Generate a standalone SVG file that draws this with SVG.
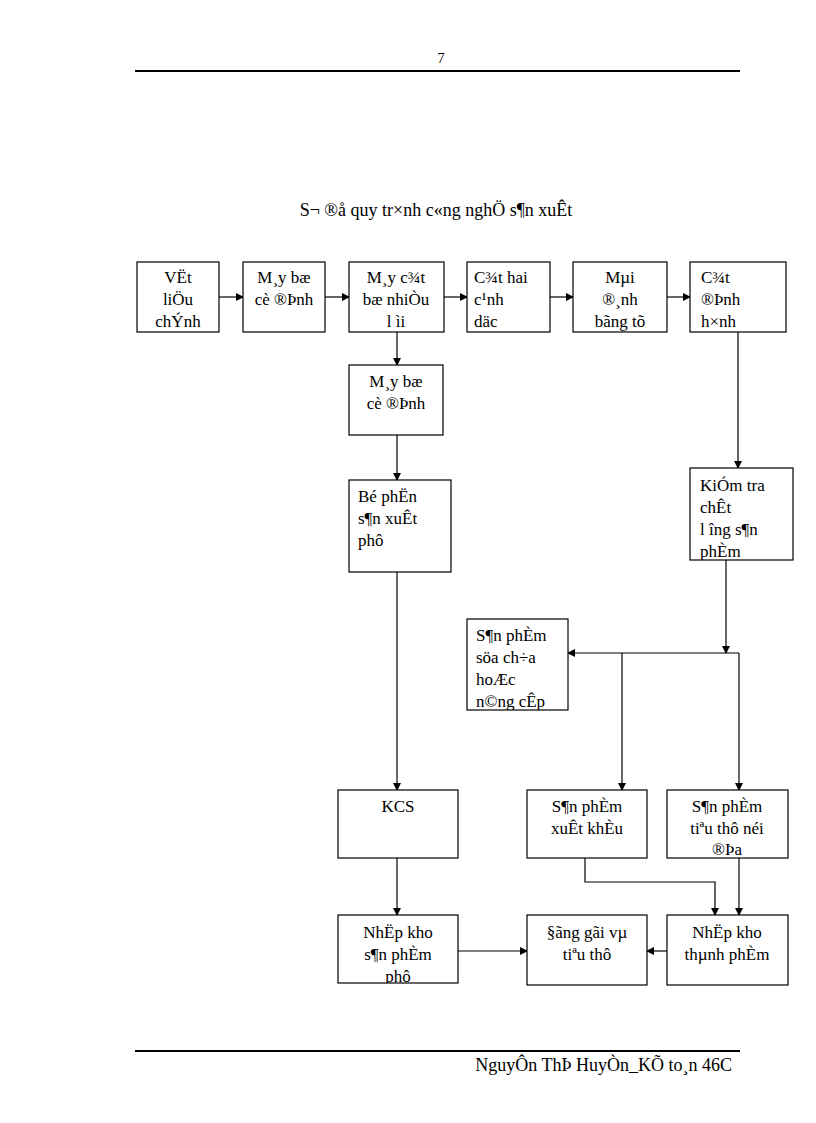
<svg xmlns="http://www.w3.org/2000/svg" width="816" height="1123" viewBox="0 0 816 1123" font-family="'Liberation Serif', 'Times New Roman', Times, serif">
<style>
text{font-family:'Liberation Serif','Times New Roman',Times,serif;font-size:17px;fill:#000}
.b{fill:#fff;stroke:#000;stroke-width:1.2}
.c{fill:none;stroke:#000;stroke-width:1.2}
.m{text-anchor:middle}
</style>
<defs>
<marker id="a" markerWidth="8" markerHeight="8" refX="7" refY="4" orient="auto" markerUnits="userSpaceOnUse"><path d="M0,0L8,4L0,8z" fill="#000"/></marker>
<clipPath id="k1"><rect x="137" y="262" width="82" height="70"/></clipPath>
<clipPath id="k3"><rect x="349" y="262" width="95" height="70"/></clipPath>
<clipPath id="k4"><rect x="467" y="262" width="83" height="70"/></clipPath>
<clipPath id="k5"><rect x="573" y="262" width="94" height="70"/></clipPath>
<clipPath id="k6"><rect x="690" y="262" width="96" height="70"/></clipPath>
<clipPath id="kk"><rect x="690" y="468" width="103" height="92"/></clipPath>
<clipPath id="ks"><rect x="467" y="619" width="101" height="91"/></clipPath>
<clipPath id="kn"><rect x="338" y="915" width="120" height="68"/></clipPath>
</defs>
<text x="441" y="63" class="m" style="font-size:14px">7</text>
<line x1="135" y1="71" x2="740" y2="71" stroke="#000" stroke-width="2"/>
<text x="436" y="216" class="m" style="font-size:18px">S¬ ®å quy tr×nh c«ng nghÖ s¶n xuÊt</text>

<g id="connectors">
<line class="c" x1="219" y1="297" x2="243" y2="297" marker-end="url(#a)"/>
<line class="c" x1="325" y1="297" x2="349" y2="297" marker-end="url(#a)"/>
<line class="c" x1="444" y1="297" x2="467" y2="297" marker-end="url(#a)"/>
<line class="c" x1="550" y1="297" x2="573" y2="297" marker-end="url(#a)"/>
<line class="c" x1="667" y1="297" x2="690" y2="297" marker-end="url(#a)"/>
<line class="c" x1="397" y1="332" x2="397" y2="365" marker-end="url(#a)"/>
<line class="c" x1="397" y1="435" x2="397" y2="480" marker-end="url(#a)"/>
<line class="c" x1="397" y1="572" x2="397" y2="790" marker-end="url(#a)"/>
<line class="c" x1="397" y1="858" x2="397" y2="915" marker-end="url(#a)"/>
<line class="c" x1="458" y1="951" x2="527" y2="951" marker-end="url(#a)"/>
<line class="c" x1="667" y1="951" x2="647" y2="951" marker-end="url(#a)"/>
<line class="c" x1="738" y1="332" x2="738" y2="468" marker-end="url(#a)"/>
<line class="c" x1="726" y1="560" x2="726" y2="653" marker-end="url(#a)"/>
<line class="c" x1="739" y1="653" x2="568" y2="653" marker-end="url(#a)"/>
<line class="c" x1="622" y1="653" x2="622" y2="790" marker-end="url(#a)"/>
<line class="c" x1="739" y1="653" x2="739" y2="790" marker-end="url(#a)"/>
<polyline class="c" points="585,858 585,882 715,882 715,915" marker-end="url(#a)"/>
<line class="c" x1="739" y1="858" x2="739" y2="915" marker-end="url(#a)"/>
</g>

<g id="n1"><rect class="b" x="137" y="262" width="82" height="70"/><g clip-path="url(#k1)"><text x="178" y="283" class="m">VËt</text><text x="178" y="305" class="m">liÖu</text><text x="178" y="327" class="m">chÝnh</text></g></g>
<g id="n2"><rect class="b" x="243" y="262" width="82" height="70"/><text x="284" y="283" class="m">M¸y bæ</text><text x="284" y="305" class="m">cè ®Þnh</text></g>
<g id="n3"><rect class="b" x="349" y="262" width="95" height="70"/><g clip-path="url(#k3)"><text x="396" y="283" class="m">M¸y c¾t</text><text x="396" y="305" class="m">bæ nhiÒu</text><text x="396" y="327" class="m">l   ìi</text></g></g>
<g id="n4"><rect class="b" x="467" y="262" width="83" height="70"/><g clip-path="url(#k4)"><text x="474" y="283">C¾t hai</text><text x="474" y="305">c¹nh</text><text x="474" y="327">däc</text></g></g>
<g id="n5"><rect class="b" x="573" y="262" width="94" height="70"/><g clip-path="url(#k5)"><text x="620" y="283" class="m">Mµi</text><text x="620" y="305" class="m">®¸nh</text><text x="620" y="327" class="m">bãng tõ</text></g></g>
<g id="n6"><rect class="b" x="690" y="262" width="96" height="70"/><g clip-path="url(#k6)"><text x="701" y="283">C¾t</text><text x="701" y="305">®Þnh</text><text x="701" y="327">h×nh</text></g></g>
<g id="n7"><rect class="b" x="349" y="365" width="94" height="70"/><text x="396" y="387" class="m">M¸y bæ</text><text x="396" y="409" class="m">cè ®Þnh</text></g>
<g id="n8"><rect class="b" x="349" y="480" width="102" height="92"/><text x="358" y="502">Bé phËn</text><text x="358" y="524">s¶n xuÊt</text><text x="358" y="546">phô</text></g>
<g id="n9"><rect class="b" x="690" y="468" width="103" height="92"/><g clip-path="url(#kk)"><text x="700" y="491">KiÓm tra</text><text x="700" y="513">chÊt</text><text x="700" y="535">l   îng  s¶n</text><text x="700" y="557">phÈm</text></g></g>
<g id="n10"><rect class="b" x="467" y="619" width="101" height="91"/><g clip-path="url(#ks)"><text x="476" y="641">S¶n phÈm</text><text x="476" y="663">söa ch÷a</text><text x="476" y="685">hoÆc</text><text x="476" y="707">n©ng cÊp</text></g></g>
<g id="n11"><rect class="b" x="338" y="790" width="120" height="68"/><text x="398" y="812" class="m">KCS</text></g>
<g id="n12"><rect class="b" x="527" y="790" width="120" height="68"/><text x="587" y="812" class="m">S¶n phÈm</text><text x="587" y="834" class="m">xuÊt khÈu</text></g>
<g id="n13"><rect class="b" x="667" y="790" width="121" height="68"/><text x="727" y="812" class="m">S¶n phÈm</text><text x="727" y="834" class="m">tiªu thô néi</text><text x="727" y="855" class="m">®Þa</text></g>
<g id="n14"><rect class="b" x="338" y="915" width="120" height="68"/><g clip-path="url(#kn)"><text x="398" y="938" class="m">NhËp kho</text><text x="398" y="960" class="m">s¶n phÈm</text><text x="398" y="982" class="m">phô</text></g></g>
<g id="n15"><rect class="b" x="527" y="915" width="120" height="70"/><text x="587" y="938" class="m">§ãng gãi vµ</text><text x="587" y="960" class="m">tiªu thô</text></g>
<g id="n16"><rect class="b" x="667" y="915" width="121" height="70"/><text x="727" y="938" class="m">NhËp kho</text><text x="727" y="960" class="m">thµnh phÈm</text></g>

<line x1="135" y1="1051" x2="740" y2="1051" stroke="#000" stroke-width="2"/>
<text x="732" y="1071" style="text-anchor:end;font-size:18px">NguyÔn ThÞ HuyÒn_KÕ to¸n 46C</text>
</svg>
